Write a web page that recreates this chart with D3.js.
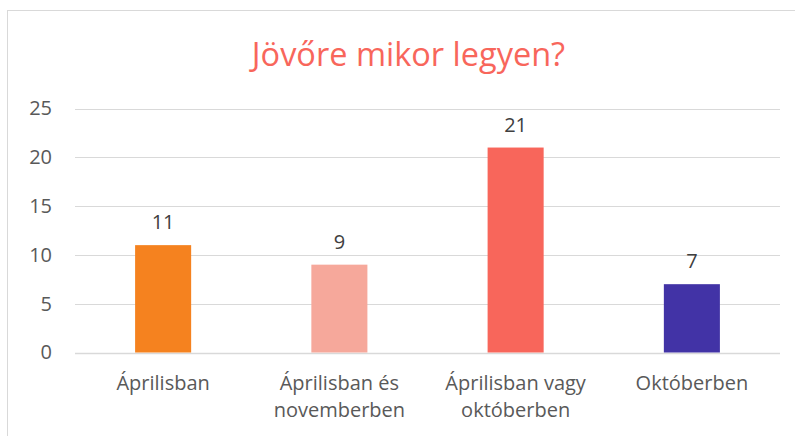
<!DOCTYPE html>
<html>
<head>
<meta charset="utf-8">
<script src="https://cdn.jsdelivr.net/npm/d3@7"></script>
<style>
  body { margin: 0; background: #fff; }
  svg { display: block; font-family: "Open Sans", sans-serif; }
</style>
</head>
<body>
<div id="chart"></div>
<script>
// data
var categories = ['Áprilisban', 'Áprilisban és\nnovemberben', 'Áprilisban vagy\noktóberben', 'Októberben'];
var values = [11, 9, 21, 7];
var colors = ['#F5821F', '#F6A89B', '#F8665B', '#4233A6'];
var yTicks = [0, 5, 10, 15, 20, 25];
var title = 'Jövőre mikor legyen?';

var width = 795;
var height = 436;
var margin = { top: 108.5, right: 15, bottom: 83.5, left: 75 };

var svg = d3.select('#chart').append('svg')
    .attr('width', width)
    .attr('height', height);

// chart area border
svg.append('rect')
    .attr('x', 7.5).attr('y', 10.5)
    .attr('width', 820).attr('height', 460)
    .attr('fill', 'none')
    .attr('stroke', '#d9d9d9');

svg.append('text')
    .attr('x', 408.5)
    .attr('y', 65.5)
    .attr('text-anchor', 'middle')
    .attr('fill', '#F8665B')
    .style('font-size', '32.5px')
    .text(title);

var x = d3.scaleBand()
    .domain(categories)
    .range([margin.left, width - margin.right])
    .paddingInner(0.682)
    .paddingOuter(0.341);

var y = d3.scaleLinear()
    .domain([0, 25])
    .range([height - margin.bottom, margin.top]);

// gridlines
svg.append('g')
    .selectAll('line')
    .data(yTicks)
    .enter()
    .append('line')
    .attr('x1', margin.left)
    .attr('x2', width - margin.right)
    .attr('y1', (d) => Math.round(y(d)) + 0.5)
    .attr('y2', (d) => Math.round(y(d)) + 0.5)
    .attr('stroke', '#d9d9d9')
    .attr('stroke-width', (d) => d === 0 ? 1.5 : 1.2);

// y axis labels
var yAxis = d3.axisLeft(y).tickValues(yTicks).tickSize(0).tickPadding(0);
svg.append('g')
    .attr('transform', `translate(52,0)`)
    .call(yAxis)
    .call((g) => g.select('.domain').remove())
    .selectAll('text')
    .attr('fill', '#595959')
    .style('font-size', '20px')
    .style('font-family', '"Open Sans", sans-serif');

// bars
svg.append('g')
    .selectAll('rect')
    .data(values)
    .enter()
    .append('rect')
    .attr('x', (d, i) => x(categories[i]))
    .attr('width', x.bandwidth())
    .attr('y', (d) => y(d))
    .attr('height', (d) => y(0) - y(d))
    .attr('fill', (d, i) => colors[i]);

// data labels
svg.append('g')
    .selectAll('text')
    .data(values)
    .enter()
    .append('text')
    .attr('x', (d, i) => x(categories[i]) + x.bandwidth() / 2)
    .attr('y', (d) => y(d) - 16)
    .attr('text-anchor', 'middle')
    .attr('fill', '#404040')
    .style('font-size', '20px')
    .text((d) => d);

// category labels
var catG = svg.append('g')
    .selectAll('text')
    .data(categories)
    .enter()
    .append('text')
    .attr('text-anchor', 'middle')
    .attr('fill', '#595959')
    .style('font-size', '20px')
    .attr('transform', (d) => `translate(${x(d) + x.bandwidth() / 2},390)`);

catG.selectAll('tspan')
    .data((d) => d.split('\n'))
    .enter()
    .append('tspan')
    .attr('x', 0)
    .attr('y', (d, i) => i * 26.5)
    .text((d) => d);
</script>
</body>
</html>
